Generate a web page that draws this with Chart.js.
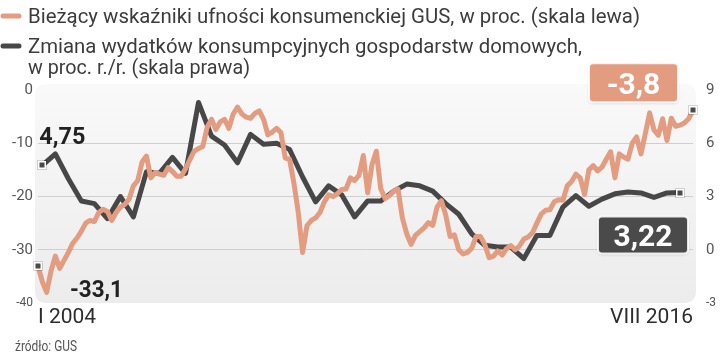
<!DOCTYPE html>
<html><head><meta charset="utf-8">
<script src="https://cdn.jsdelivr.net/npm/chart.js@4/dist/chart.umd.min.js"></script>
<style>html,body{margin:0;padding:0;background:#fff;}canvas{display:block;}</style>
</head><body>
<canvas id="c" width="721" height="356"></canvas>
<script>
// ---- DATA ----
const monthNames = ['I','II','III','IV','V','VI','VII','VIII','IX','X','XI','XII'];
const startYear = 2004, endYear = 2016, endMonth = 8;
const categories = [];
for (let y = startYear; y <= endYear; y++) {
  for (let m = 0; m < 12; m++) {
    if (y === endYear && m >= endMonth) break;
    categories.push(monthNames[m] + ' ' + y);
  }
}
const xTickLabels = ['I 2004', 'VIII 2016'];

// Bieżący wskaźnik ufności konsumenckiej (monthly, left scale)
const confidence = [
 -33.1,-36,-38,-34,-31.2,-33.5,-32,-30.5,-28.8,-27.8,-26.5,-25,
 -24.5,-24.7,-23,-22.4,-22.8,-24.5,-23,-22,-21.5,-20.5,-18,-17,
 -13.5,-12.4,-16.5,-15.5,-15.8,-16,-14.6,-15.3,-16.2,-16.2,-14.8,-13.1,
 -11.5,-11,-10.6,-7,-5.5,-7.4,-6,-5.5,-7.2,-4.5,-3.2,-4.5,
 -5.1,-5.3,-4.4,-3.9,-5.5,-8.4,-7.9,-7.2,-8,-12.8,-13,-17.5,
 -23,-30.5,-25.5,-24.5,-24,-23,-21,-19.7,-20,-19.5,-18.7,-18.6,
 -16.5,-17,-16,-12.3,-19.3,-14,-11.5,-18.5,-20.4,-19.8,-19,-18.6,
 -24,-27,-29,-27.3,-26.6,-25.9,-24.9,-25.4,-22,-20.8,-23.5,-27.5,
 -27.2,-30,-30.8,-30.5,-29.7,-27.5,-27.5,-29,-31.5,-31.2,-30.2,-31,
 -29.8,-29.2,-30,-29.3,-28,-27.6,-26.8,-25,-23.3,-22.6,-22.5,-21,
 -20.6,-20.7,-18,-17.2,-15.8,-16.5,-19.6,-15,-14.2,-15.2,-14.5,-13,
 -11.6,-16.5,-12,-12.6,-13,-10,-8.8,-12,-8.2,-4.3,-7.5,-8.5,
 -5.4,-9.5,-5.3,-6.8,-6.6,-6.2,-5.4,-3.8
];

// Zmiana wydatków konsumpcyjnych (quarterly, % r/r, right scale)
const consumptionQuarterly = [
 4.75,5.4,4.0,2.75,2.6,1.75,3.0,1.85,
 4.4,4.3,5.2,4.3,8.3,6.4,5.9,4.9,
 6.5,5.95,6.0,5.65,4.1,2.7,3.6,3.1,
 1.85,2.75,2.75,3.3,3.7,3.6,3.3,2.6,
 2.0,0.9,0.25,0.15,0.15,-0.5,0.8,0.8,
 2.4,3.05,2.45,2.85,3.15,3.25,3.2,2.95,
 3.2,3.22
];

const leftTicks = [0,-10,-20,-30,-40];
const rightTicks = [9,6,3,0,-3];

const legendTexts = [
  'Bieżący wskaźniki ufności konsumenckiej GUS, w proc. (skala lewa)',
  'Zmiana wydatków konsumpcyjnych gospodarstw domowych,',
  'w proc. r./r. (skala prawa)'
];
const sourceText = 'źródło: GUS';

// quarterly values placed at the middle month of each quarter
const consumption = categories.map(() => null);
consumptionQuarterly.forEach((v, k) => { consumption[1 + 3 * k] = v; });

// ---- STYLE ----
const PINK = '#e39c80';
const DARK = '#474747';
const FONT = 'Roboto';
Chart.defaults.font.family = FONT;

function firstLast(arr) {
  let f = -1, l = -1;
  arr.forEach((v, i) => { if (v !== null) { if (f < 0) f = i; l = i; } });
  return [f, l];
}
const [pf, pl] = firstLast(confidence);
const [df, dl] = firstLast(consumption);

function roundRect(ctx, x, y, w, h, r) {
  ctx.beginPath();
  ctx.moveTo(x + r, y);
  ctx.lineTo(x + w - r, y);
  ctx.quadraticCurveTo(x + w, y, x + w, y + r);
  ctx.lineTo(x + w, y + h - r);
  ctx.quadraticCurveTo(x + w, y + h, x + w - r, y + h);
  ctx.lineTo(x + r, y + h);
  ctx.quadraticCurveTo(x, y + h, x, y + h - r);
  ctx.lineTo(x, y + r);
  ctx.quadraticCurveTo(x, y, x + r, y);
  ctx.closePath();
}
function fitText(ctx, text, x, y, width) {
  const w = ctx.measureText(text).width;
  ctx.save();
  ctx.translate(x, y);
  ctx.scale(width / w, 1);
  ctx.fillText(text, 0, 0);
  ctx.restore();
}
function fmt(v) { return String(v).replace('.', ','); }

const deco = {
  id: 'deco',
  beforeDraw(chart) {
    const { ctx, chartArea: a } = chart;
    const x = a.left - 3, y = a.top - 6, w = a.right - a.left + 6, h = a.bottom - y;
    const g = ctx.createLinearGradient(0, y, 0, y + h);
    g.addColorStop(0, '#f9f9f9');
    g.addColorStop(1, '#ececec');
    ctx.save();
    ctx.fillStyle = g;
    roundRect(ctx, x, y, w, h, 12);
    ctx.fill();
    ctx.restore();
  },
  afterDatasetsDraw(chart) {
    // end-point markers, positioned from the library's point elements
    const { ctx } = chart;
    ctx.save();
    const marks = [[0, pf], [0, pl], [1, df], [1, dl]];
    marks.forEach(([ds, idx]) => {
      const el = chart.getDatasetMeta(ds).data[idx];
      if (!el) return;
      const x = Math.round(el.x), y = Math.round(el.y);
      ctx.fillStyle = 'rgba(0,0,0,0.15)';
      ctx.fillRect(x - 5, y - 5, 10, 10);
      ctx.fillStyle = '#fff';
      ctx.fillRect(x - 4, y - 4, 8, 8);
      ctx.fillStyle = '#4a4a4a';
      ctx.fillRect(x - 2.5, y - 2.5, 5, 5);
    });
    ctx.restore();
  },
  afterDraw(chart) {
    const { ctx } = chart;
    const xs = chart.scales.x, yl = chart.scales.y, yr = chart.scales.y1;
    ctx.save();
    // legend
    ctx.lineCap = 'round';
    ctx.lineWidth = 5;
    ctx.strokeStyle = PINK;
    ctx.beginPath(); ctx.moveTo(3, 16); ctx.lineTo(19, 16); ctx.stroke();
    ctx.strokeStyle = DARK;
    ctx.beginPath(); ctx.moveTo(3, 46); ctx.lineTo(19, 46); ctx.stroke();
    ctx.fillStyle = '#3c3c3c';
    ctx.font = '20px ' + FONT;
    ctx.textBaseline = 'alphabetic';
    ctx.textAlign = 'left';
    fitText(ctx, legendTexts[0], 28, 23, 612);
    fitText(ctx, legendTexts[1], 28, 53, 554);
    fitText(ctx, legendTexts[2], 28, 74, 222);

    // start labels
    const p0x = xs.getPixelForValue(pf), p0y = yl.getPixelForValue(confidence[pf]);
    const d0x = xs.getPixelForValue(df), d0y = yr.getPixelForValue(consumption[df]);
    ctx.fillStyle = '#222';
    ctx.font = 'bold 23px ' + FONT;
    fitText(ctx, fmt(consumption[df]), d0x - 3, d0y - 21, 46);
    fitText(ctx, fmt(confidence[pf]), p0x + 32, p0y + 31, 53);

    // end boxes
    const p1x = xs.getPixelForValue(pl), p1y = yl.getPixelForValue(confidence[pl]);
    const d1x = xs.getPixelForValue(dl), d1y = yr.getPixelForValue(consumption[dl]);
    function box(bx, by, bw, bh, fill, text) {
      ctx.save();
      ctx.shadowColor = 'rgba(0,0,0,0.18)';
      ctx.shadowBlur = 3;
      ctx.shadowOffsetY = 1;
      roundRect(ctx, bx, by, bw, bh, 4);
      ctx.fillStyle = fill;
      ctx.fill();
      ctx.restore();
      roundRect(ctx, bx, by, bw, bh, 4);
      ctx.lineWidth = 2;
      ctx.strokeStyle = 'rgba(255,255,255,0.85)';
      ctx.stroke();
      ctx.fillStyle = '#fff';
      ctx.font = 'bold 30px ' + FONT;
      ctx.textAlign = 'left';
      const tw = Math.min(ctx.measureText(text).width, bw - 20);
      fitText(ctx, text, bx + (bw - tw) / 2, by + bh / 2 + 11, tw);
    }
    box(p1x - 104, p1y - 47, 89, 39, PINK, fmt(confidence[pl]));
    box(d1x - 82, d1y + 24, 90, 37, '#4a4a4a', fmt(consumption[dl]));

    // source
    ctx.fillStyle = '#555';
    ctx.font = '15px ' + FONT;
    ctx.textAlign = 'left';
    fitText(ctx, sourceText, 15, 351, 62);
    ctx.restore();
  }
};

new Chart(document.getElementById('c'), {
  type: 'line',
  data: {
    labels: categories,
    datasets: [
      {
        label: legendTexts[0],
        data: confidence,
        yAxisID: 'y',
        clip: false,
        borderColor: PINK,
        borderWidth: 5,
        tension: 0,
        borderJoinStyle: 'round',
        borderCapStyle: 'round',
        pointRadius: 0,
        order: 0
      },
      {
        label: legendTexts[1],
        data: consumption,
        yAxisID: 'y1',
        clip: false,
        spanGaps: true,
        borderColor: DARK,
        borderWidth: 5,
        tension: 0,
        borderJoinStyle: 'round',
        borderCapStyle: 'round',
        pointRadius: 0,
        order: 1
      }
    ]
  },
  options: {
    responsive: false,
    animation: false,
    events: [],
    layout: { padding: { top: 90, left: 0, right: 0, bottom: 0 } },
    plugins: { legend: { display: false }, tooltip: { enabled: false } },
    scales: {
      x: {
        type: 'category',
        offset: false,
        grid: { display: false, drawTicks: false },
        border: { display: false },
        ticks: {
          autoSkip: false, maxRotation: 0, minRotation: 0, align: 'inner', padding: 2,
          color: '#2d2d2d', font: { size: 21, family: FONT },
          callback: (v, i) => i === 0 ? xTickLabels[0] : (i === categories.length - 1 ? xTickLabels[1] : '')
        },
        afterFit: (s) => { s.height = 53; }
      },
      y: {
        position: 'left', min: leftTicks[4], max: leftTicks[0],
        afterBuildTicks: (s) => { s.ticks = leftTicks.map(v => ({ value: v })); },
        grid: {
          drawTicks: false,
          color: (c) => (c.tick && c.tick.value < 0 && c.tick.value > -40) ? '#cfcfcf' : 'rgba(0,0,0,0)',
          lineWidth: 1
        },
        border: { display: false },
        ticks: {
          padding: 5, color: '#555',
          font: (c) => ({ size: (c.tick && c.tick.value === -40) ? 12 : 15, family: FONT })
        },
        afterFit: (s) => { s.width = 38; }
      },
      y1: {
        position: 'right', min: rightTicks[4], max: rightTicks[0],
        afterBuildTicks: (s) => { s.ticks = rightTicks.map(v => ({ value: v })); },
        grid: { display: false, drawTicks: false },
        border: { display: false },
        ticks: {
          padding: 13, color: '#555',
          font: (c) => ({ size: (c.tick && c.tick.value === -3) ? 12 : 15, family: FONT })
        },
        afterFit: (s) => { s.width = 28; }
      }
    }
  },
  plugins: [deco]
});
</script>
</body></html>
